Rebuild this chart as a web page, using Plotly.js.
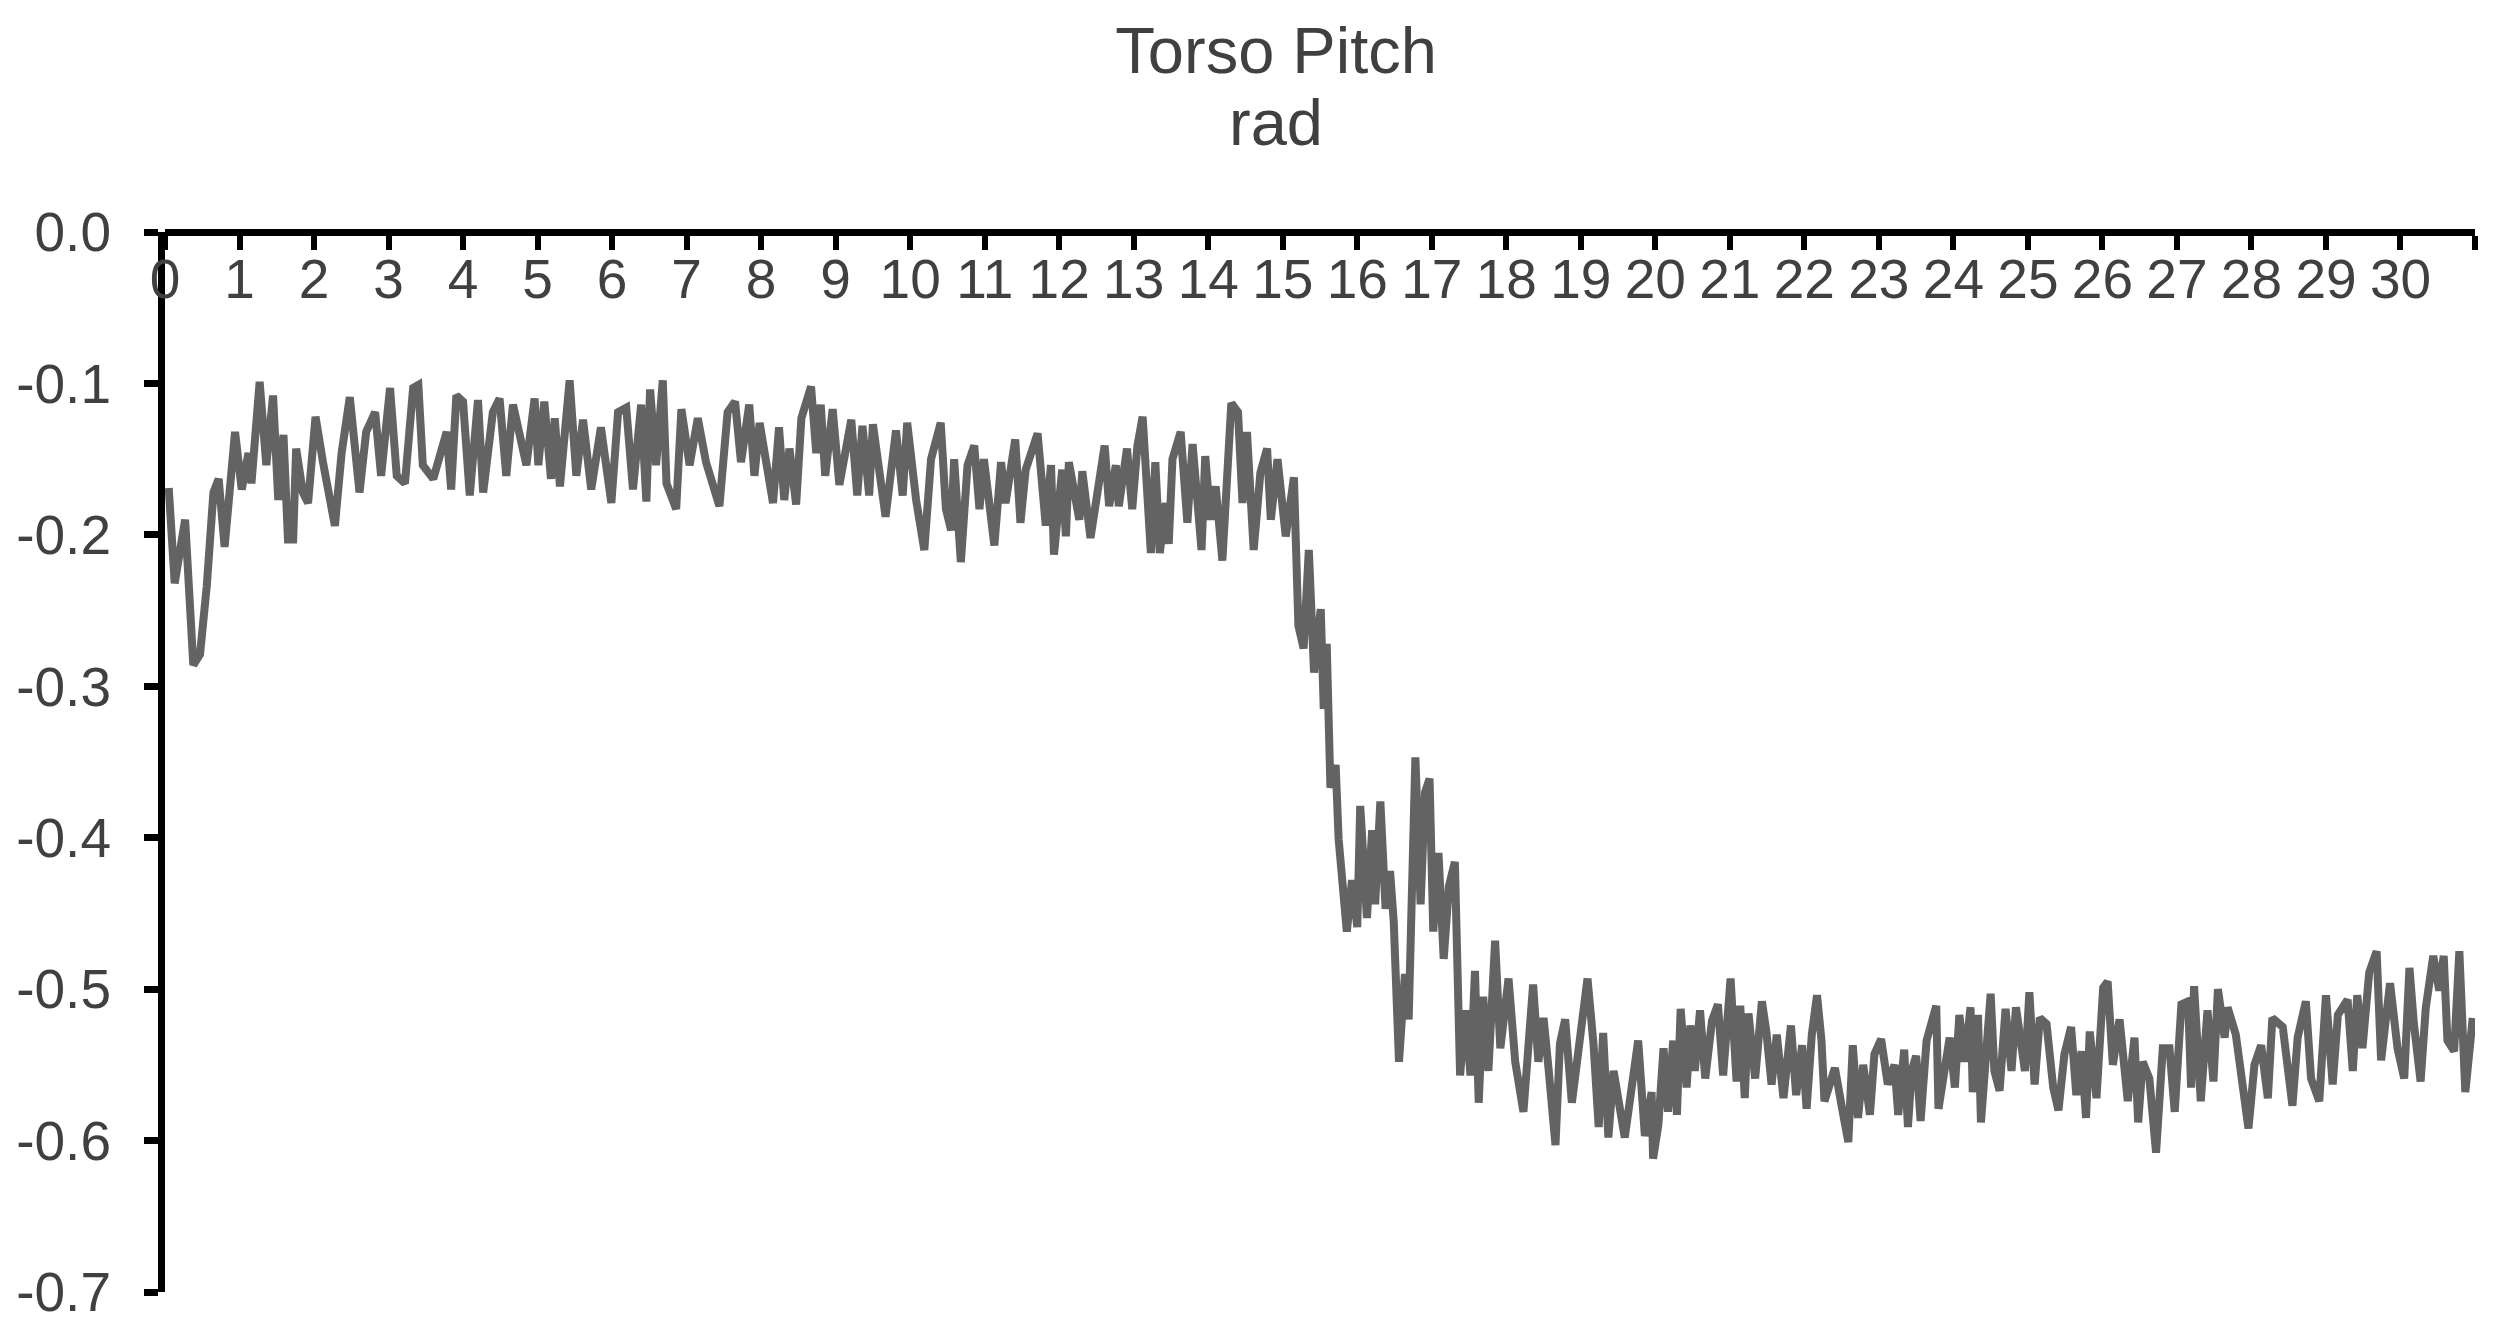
<!DOCTYPE html>
<html>
<head>
<meta charset="utf-8">
<script src="https://cdn.plot.ly/plotly-3.0.1.min.js"></script>
<style>
  html, body { margin: 0; padding: 0; background: #fff; }
  #chart { width: 2506px; height: 1335px; }
</style>
</head>
<body>
<div id="chart"></div>
<script>
// Torso pitch (rad) over time (s)
const timeSec = [
  0.05, 0.13, 0.27, 0.38, 0.47, 0.56, 0.65, 0.72, 0.80, 0.94, 1.03, 1.12, 1.16, 1.27, 1.36, 1.45,
  1.52, 1.59, 1.65, 1.72, 1.76, 1.85, 1.92, 2.02, 2.12, 2.28, 2.37, 2.48, 2.61, 2.70, 2.82, 2.90,
  3.02, 3.11, 3.22, 3.33, 3.40, 3.46, 3.60, 3.78, 3.84, 3.91, 4.00, 4.09, 4.20, 4.27, 4.40, 4.49,
  4.58, 4.67, 4.85, 4.96, 5.01, 5.09, 5.18, 5.23, 5.30, 5.43, 5.52, 5.61, 5.72, 5.85, 5.99, 6.08,
  6.19, 6.28, 6.39, 6.46, 6.51, 6.59, 6.68, 6.73, 6.86, 6.93, 7.04, 7.15, 7.26, 7.44, 7.55, 7.65,
  7.73, 7.84, 7.91, 7.98, 8.16, 8.24, 8.31, 8.38, 8.47, 8.54, 8.67, 8.74, 8.80, 8.86, 8.96, 9.05,
  9.21, 9.29, 9.36, 9.45, 9.50, 9.67, 9.81, 9.90, 9.96, 10.08, 10.19, 10.28, 10.41, 10.48, 10.55, 10.59,
  10.68, 10.77, 10.86, 10.93, 10.99, 11.13, 11.22, 11.28, 11.41, 11.48, 11.55, 11.71, 11.82, 11.89, 11.93, 12.04,
  12.09, 12.13, 12.27, 12.31, 12.42, 12.56, 12.61, 12.67, 12.76, 12.80, 12.91, 12.98, 13.05, 13.12, 13.18, 13.23,
  13.29, 13.35, 13.43, 13.47, 13.52, 13.63, 13.72, 13.79, 13.91, 13.96, 14.03, 14.10, 14.19, 14.25, 14.31, 14.40,
  14.46, 14.52, 14.61, 14.70, 14.79, 14.84, 14.93, 15.04, 15.15, 15.21, 15.28, 15.35, 15.42, 15.51, 15.55, 15.59,
  15.64, 15.71, 15.75, 15.86, 15.93, 16.00, 16.04, 16.13, 16.20, 16.24, 16.31, 16.38, 16.44, 16.49, 16.56, 16.64,
  16.69, 16.78, 16.85, 16.91, 16.97, 17.02, 17.09, 17.16, 17.23, 17.31, 17.38, 17.45, 17.52, 17.58, 17.63, 17.69,
  17.76, 17.85, 17.92, 18.03, 18.12, 18.23, 18.36, 18.43, 18.50, 18.57, 18.66, 18.72, 18.79, 18.88, 18.99, 19.09,
  19.17, 19.24, 19.30, 19.37, 19.44, 19.59, 19.77, 19.86, 19.95, 19.97, 20.04, 20.11, 20.17, 20.24, 20.29, 20.34,
  20.42, 20.47, 20.53, 20.60, 20.67, 20.76, 20.84, 20.91, 21.01, 21.09, 21.14, 21.20, 21.25, 21.34, 21.43, 21.49,
  21.56, 21.63, 21.72, 21.82, 21.89, 21.97, 22.03, 22.10, 22.17, 22.23, 22.27, 22.41, 22.50, 22.59, 22.65, 22.72,
  22.79, 22.88, 22.94, 23.03, 23.12, 23.21, 23.26, 23.34, 23.39, 23.44, 23.50, 23.56, 23.64, 23.70, 23.77, 23.80,
  23.88, 23.95, 24.02, 24.08, 24.15, 24.23, 24.26, 24.33, 24.37, 24.44, 24.50, 24.55, 24.62, 24.70, 24.78, 24.84,
  24.96, 25.02, 25.09, 25.16, 25.25, 25.34, 25.41, 25.49, 25.58, 25.65, 25.72, 25.78, 25.83, 25.92, 26.01, 26.07,
  26.14, 26.23, 26.34, 26.43, 26.48, 26.54, 26.63, 26.72, 26.81, 26.90, 26.97, 27.06, 27.15, 27.19, 27.23, 27.32,
  27.41, 27.49, 27.55, 27.64, 27.68, 27.79, 27.88, 27.96, 28.04, 28.13, 28.22, 28.28, 28.42, 28.49, 28.55, 28.62,
  28.73, 28.80, 28.91, 29.00, 29.09, 29.16, 29.29, 29.36, 29.42, 29.49, 29.58, 29.68, 29.74, 29.86, 29.96, 30.05,
  30.12, 30.18, 30.27, 30.34, 30.44, 30.52, 30.58, 30.63, 30.72, 30.79, 30.87, 30.97
];
const pitchRad = [
  -0.169, -0.232, -0.190, -0.286, -0.279, -0.234, -0.172, -0.163, -0.208, -0.132, -0.170, -0.146, -0.166, -0.099, -0.154, -0.108,
  -0.177, -0.134, -0.203, -0.203, -0.143, -0.172, -0.179, -0.122, -0.152, -0.194, -0.146, -0.109, -0.172, -0.132, -0.119, -0.161,
  -0.103, -0.161, -0.166, -0.103, -0.101, -0.154, -0.163, -0.132, -0.170, -0.108, -0.112, -0.174, -0.111, -0.172, -0.119, -0.110,
  -0.161, -0.114, -0.154, -0.110, -0.154, -0.112, -0.163, -0.123, -0.168, -0.098, -0.161, -0.124, -0.170, -0.129, -0.179, -0.119,
  -0.116, -0.170, -0.114, -0.178, -0.104, -0.154, -0.098, -0.166, -0.183, -0.117, -0.154, -0.123, -0.152, -0.181, -0.119, -0.112,
  -0.152, -0.114, -0.161, -0.126, -0.179, -0.129, -0.177, -0.143, -0.180, -0.123, -0.102, -0.146, -0.114, -0.161, -0.117, -0.167,
  -0.124, -0.174, -0.128, -0.174, -0.127, -0.188, -0.131, -0.174, -0.126, -0.177, -0.210, -0.150, -0.126, -0.183, -0.197, -0.150,
  -0.218, -0.154, -0.141, -0.183, -0.150, -0.207, -0.152, -0.179, -0.137, -0.192, -0.157, -0.133, -0.194, -0.154, -0.213, -0.157,
  -0.201, -0.152, -0.190, -0.158, -0.202, -0.159, -0.141, -0.181, -0.154, -0.181, -0.143, -0.183, -0.141, -0.122, -0.168, -0.212,
  -0.152, -0.212, -0.179, -0.206, -0.150, -0.132, -0.192, -0.140, -0.210, -0.148, -0.190, -0.168, -0.217, -0.168, -0.113, -0.119,
  -0.179, -0.132, -0.210, -0.159, -0.143, -0.190, -0.150, -0.201, -0.162, -0.260, -0.275, -0.210, -0.291, -0.249, -0.315, -0.272,
  -0.367, -0.352, -0.401, -0.462, -0.428, -0.459, -0.379, -0.453, -0.395, -0.444, -0.376, -0.447, -0.422, -0.456, -0.548, -0.490,
  -0.520, -0.347, -0.444, -0.370, -0.361, -0.462, -0.410, -0.480, -0.432, -0.416, -0.557, -0.514, -0.557, -0.488, -0.575, -0.505,
  -0.554, -0.468, -0.539, -0.493, -0.548, -0.581, -0.497, -0.548, -0.519, -0.554, -0.603, -0.536, -0.520, -0.575, -0.529, -0.493,
  -0.536, -0.591, -0.529, -0.598, -0.554, -0.598, -0.534, -0.597, -0.568, -0.612, -0.590, -0.539, -0.581, -0.534, -0.583, -0.513,
  -0.565, -0.524, -0.554, -0.514, -0.559, -0.521, -0.510, -0.557, -0.493, -0.561, -0.511, -0.572, -0.516, -0.559, -0.508, -0.528,
  -0.563, -0.530, -0.572, -0.524, -0.570, -0.537, -0.579, -0.530, -0.504, -0.534, -0.574, -0.552, -0.577, -0.601, -0.537, -0.585,
  -0.550, -0.583, -0.543, -0.533, -0.563, -0.550, -0.583, -0.540, -0.591, -0.554, -0.544, -0.587, -0.534, -0.522, -0.511, -0.579,
  -0.554, -0.532, -0.565, -0.517, -0.548, -0.512, -0.568, -0.517, -0.588, -0.534, -0.503, -0.554, -0.567, -0.513, -0.554, -0.512,
  -0.554, -0.502, -0.563, -0.519, -0.523, -0.565, -0.580, -0.543, -0.525, -0.570, -0.541, -0.585, -0.528, -0.572, -0.499, -0.495,
  -0.550, -0.520, -0.574, -0.532, -0.588, -0.548, -0.559, -0.608, -0.539, -0.539, -0.581, -0.510, -0.508, -0.565, -0.498, -0.574,
  -0.514, -0.561, -0.500, -0.532, -0.512, -0.530, -0.568, -0.592, -0.550, -0.537, -0.572, -0.519, -0.525, -0.559, -0.577, -0.532,
  -0.508, -0.559, -0.574, -0.504, -0.563, -0.517, -0.507, -0.554, -0.504, -0.539, -0.489, -0.475, -0.547, -0.496, -0.539, -0.559,
  -0.486, -0.523, -0.561, -0.512, -0.478, -0.501, -0.478, -0.534, -0.541, -0.475, -0.568, -0.519
];

const xTickVals = [0, 1, 2, 3, 4, 5, 6, 7, 8, 9, 10, 11, 12, 13, 14, 15, 16, 17, 18, 19, 20,
  21, 22, 23, 24, 25, 26, 27, 28, 29, 30, 31];
const xTickText = ['0', '1', '2', '3', '4', '5', '6', '7', '8', '9', '10', '11', '12', '13', '14', '15',
  '16', '17', '18', '19', '20', '21', '22', '23', '24', '25', '26', '27', '28', '29', '30', ''];
const yTickVals = [0, -0.1, -0.2, -0.3, -0.4, -0.5, -0.6, -0.7];
const yTickText = ['0.0', '-0.1', '-0.2', '-0.3', '-0.4', '-0.5', '-0.6', '-0.7'];

const FONT = 'Liberation Sans, Arial, sans-serif';
const TEXT_COLOR = '#404040';

const trace = {
  type: 'scatter',
  mode: 'lines',
  x: timeSec,
  y: pitchRad,
  line: { color: '#636363', width: 8 },
  hoverinfo: 'skip'
};

const layout = {
  width: 2506,
  height: 1335,
  margin: { l: 165, r: 31, t: 232, b: 43, pad: 0 },
  paper_bgcolor: '#ffffff',
  plot_bgcolor: '#ffffff',
  showlegend: false,
  font: { family: FONT, color: TEXT_COLOR },
  title: {
    text: 'Torso Pitch',
    font: { family: FONT, size: 65, color: TEXT_COLOR },
    x: 0.481, xref: 'paper', xanchor: 'center',
    y: 0.962, yref: 'container', yanchor: 'middle'
  },
  annotations: [{
    text: 'rad',
    showarrow: false,
    xref: 'paper', yref: 'paper',
    x: 0.481, y: 1.103, xanchor: 'center', yanchor: 'middle',
    font: { family: FONT, size: 65, color: TEXT_COLOR }
  }],
  xaxis: {
    range: [0, 31],
    anchor: 'free',
    position: 1,
    side: 'bottom',
    tickmode: 'array',
    tickvals: xTickVals,
    ticktext: xTickText,
    ticks: 'outside',
    ticklen: 14,
    tickwidth: 6,
    tickcolor: '#000000',
    showline: true,
    linecolor: '#000000',
    linewidth: 7,
    showgrid: false,
    zeroline: false,
    ticklabelstandoff: -18,
    tickfont: { family: FONT, size: 55, color: TEXT_COLOR }
  },
  yaxis: {
    range: [-0.7, 0],
    tickmode: 'array',
    tickvals: yTickVals,
    ticktext: yTickText,
    ticks: 'outside',
    ticklen: 14,
    tickwidth: 7,
    tickcolor: '#000000',
    showline: true,
    linecolor: '#000000',
    linewidth: 7,
    showgrid: false,
    zeroline: false,
    ticklabelstandoff: 22,
    tickfont: { family: FONT, size: 55, color: TEXT_COLOR }
  }
};

Plotly.newPlot('chart', [trace], layout, { displayModeBar: false, staticPlot: true });
</script>
</body>
</html>
